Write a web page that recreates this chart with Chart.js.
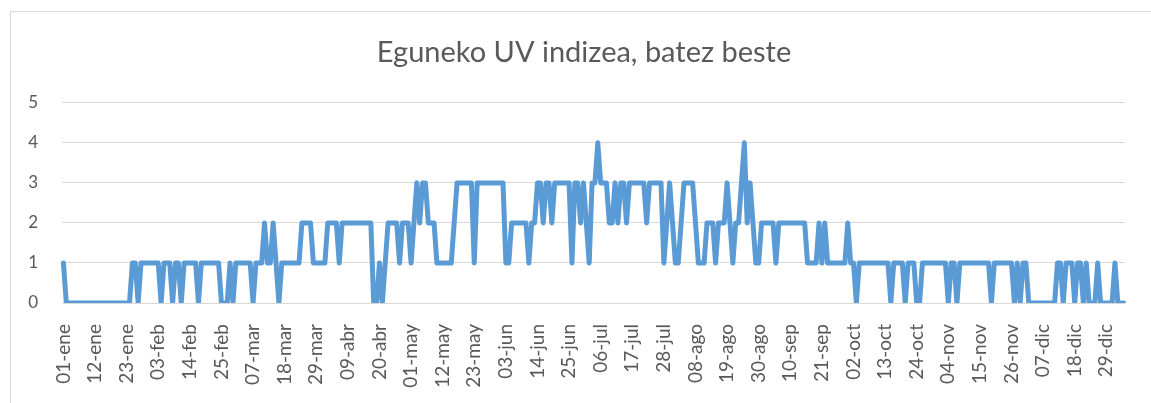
<!DOCTYPE html>
<html>
<head>
<meta charset="utf-8">
<script src="https://cdn.jsdelivr.net/npm/chart.js@4/dist/chart.umd.min.js"></script>
<style>
    html, body { margin: 0; padding: 0; background: #fff; overflow: hidden; }
    #wrap { position: relative; width: 1151px; height: 403px; overflow: hidden; }
    #frame { position: absolute; left: 10px; top: 11px; width: 1160px; height: 420px; border: 1px solid #d9d9d9; pointer-events: none; }
</style>
</head>
<body>
<div id="wrap">
    <canvas id="uvChart" width="1151" height="403"></canvas>
    <div id="frame"></div>
</div>
<script>
// Eguneko UV indizea - datuak
const chartTitle = 'Eguneko UV indizea, batez beste';
const startYear = 2016;
const monthNames = ['ene', 'feb', 'mar', 'abr', 'may', 'jun', 'jul', 'ago', 'sep', 'oct', 'nov', 'dic'];
const yTicks = [0, 1, 2, 3, 4, 5];
const labelEvery = 11;

// egunero, 01-ene-tik aurrera
const uvIndex = [
    1, 0, 0, 0, 0, 0, 0, 0, 0, 0,
    0, 0, 0, 0, 0, 0, 0, 0, 0, 0,
    0, 0, 0, 0, 1, 1, 0, 1, 1, 1,
    1, 1, 1, 1, 0, 1, 1, 1, 0, 1,
    1, 0, 1, 1, 1, 1, 1, 0, 1, 1,
    1, 1, 1, 1, 1, 0, 0, 0, 1, 0,
    1, 1, 1, 1, 1, 1, 0, 1, 1, 1,
    2, 1, 1, 2, 1, 0, 1, 1, 1, 1,
    1, 1, 1, 2, 2, 2, 2, 1, 1, 1,
    1, 1, 2, 2, 2, 2, 1, 2, 2, 2,
    2, 2, 2, 2, 2, 2, 2, 2, 0, 0,
    1, 0, 1, 2, 2, 2, 2, 1, 2, 2,
    2, 1, 2, 3, 2, 3, 3, 2, 2, 2,
    1, 1, 1, 1, 1, 1, 2, 3, 3, 3,
    3, 3, 3, 1, 3, 3, 3, 3, 3, 3,
    3, 3, 3, 3, 1, 1, 2, 2, 2, 2,
    2, 2, 1, 2, 2, 3, 3, 2, 3, 3,
    2, 3, 3, 3, 3, 3, 3, 1, 3, 3,
    2, 3, 2, 1, 3, 3, 4, 3, 3, 3,
    2, 2, 3, 2, 3, 3, 2, 3, 3, 3,
    3, 3, 3, 2, 3, 3, 3, 3, 3, 1,
    2, 3, 2, 1, 1, 2, 3, 3, 3, 3,
    2, 1, 1, 1, 2, 2, 2, 1, 2, 2,
    2, 3, 2, 1, 2, 2, 3, 4, 2, 3,
    2, 1, 1, 2, 2, 2, 2, 2, 1, 2,
    2, 2, 2, 2, 2, 2, 2, 2, 2, 1,
    1, 1, 1, 2, 1, 2, 1, 1, 1, 1,
    1, 1, 1, 2, 1, 1, 0, 1, 1, 1,
    1, 1, 1, 1, 1, 1, 1, 1, 0, 1,
    1, 1, 1, 0, 1, 1, 1, 0, 0, 1,
    1, 1, 1, 1, 1, 1, 1, 1, 0, 1,
    1, 0, 1, 1, 1, 1, 1, 1, 1, 1,
    1, 1, 1, 0, 1, 1, 1, 1, 1, 1,
    1, 0, 1, 0, 1, 1, 0, 0, 0, 0,
    0, 0, 0, 0, 0, 0, 1, 1, 0, 1,
    1, 1, 0, 1, 1, 0, 1, 0, 0, 0,
    1, 0, 0, 0, 0, 0, 1, 0, 0, 0
];

// data etiketak: 01-ene, 02-ene ...
const dayLabels = uvIndex.map((v, i) => {
    const d = new Date(Date.UTC(startYear, 0, 1 + i));
    const dd = String(d.getUTCDate()).padStart(2, '0');
    return dd + '-' + monthNames[d.getUTCMonth()];
});

const textColor = '#595959';
const gridColor = '#d9d9d9';

document.addEventListener('DOMContentLoaded', function() {
    initUvChart();
});

function initUvChart() {
    const ctx = document.getElementById('uvChart');
    if (!ctx) return;

    new Chart(ctx, {
        type: 'line',
        data: {
            labels: dayLabels,
            datasets: [{
                data: uvIndex,
                yAxisID: 'y',
                borderColor: '#5b9bd5',
                borderWidth: 5,
                borderJoinStyle: 'round',
                borderCapStyle: 'round',
                pointRadius: 0,
                tension: 0,
                fill: false
            }]
        },
        options: {
            responsive: false,
            animation: false,
            layout: {
                padding: { left: 17, right: 0, top: 0, bottom: 0 }
            },
            plugins: {
                legend: { display: false },
                tooltip: { enabled: false },
                title: {
                    display: true,
                    text: chartTitle,
                    color: textColor,
                    font: { family: 'Lato', size: 29, weight: 'normal' },
                    padding: { top: 35, bottom: 33 }
                }
            },
            scales: {
                x: {
                    offset: true,
                    grid: { display: false },
                    border: { display: false },
                    afterFit: function(scale) {
                        scale.height = 100;
                        scale.paddingLeft = 0;
                        scale.paddingRight = 0;
                    },
                    ticks: {
                        autoSkip: false,
                        minRotation: 90,
                        maxRotation: 90,
                        padding: 13,
                        color: textColor,
                        font: { family: 'Lato', size: 19 },
                        callback: function(value, index) {
                            return index % labelEvery === 0 ? this.getLabelForValue(value) : '';
                        }
                    }
                },
                y: {
                    position: 'left',
                    min: yTicks[0],
                    max: yTicks[yTicks.length - 1],
                    afterFit: function(scale) {
                        scale.width = 45;
                        scale.paddingTop = 0;
                        scale.paddingBottom = 0;
                    },
                    afterBuildTicks: function(scale) {
                        scale.ticks = yTicks.map(v => ({ value: v }));
                    },
                    grid: {
                        color: gridColor,
                        lineWidth: 1,
                        drawTicks: false
                    },
                    border: { display: false },
                    ticks: {
                        padding: 24,
                        color: textColor,
                        font: { family: 'Lato', size: 17 }
                    }
                },
                // eskuineko tarte hutsa (marrazkiaren eskuin ertza)
                yRight: {
                    type: 'linear',
                    position: 'right',
                    min: 0,
                    max: 5,
                    grid: { display: false, drawOnChartArea: false },
                    border: { display: false },
                    ticks: { display: false },
                    afterFit: function(scale) {
                        scale.width = 26;
                        scale.paddingTop = 0;
                        scale.paddingBottom = 0;
                    }
                }
            }
        }
    });
}
</script>
</body>
</html>
